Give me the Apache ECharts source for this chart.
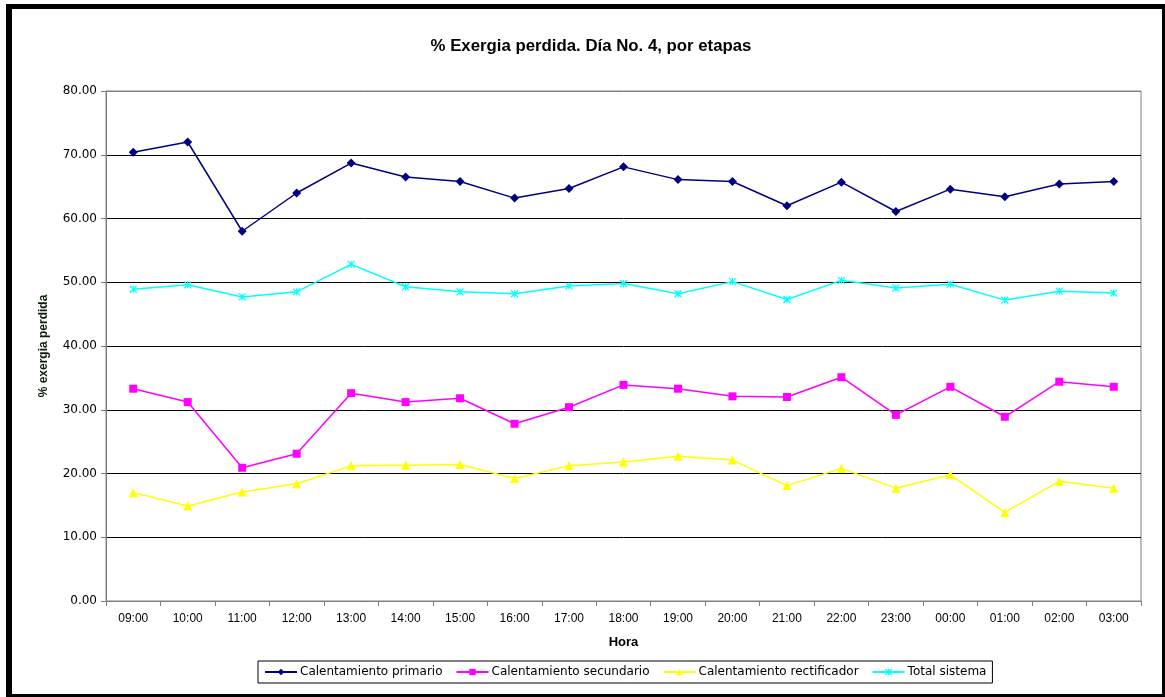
<!DOCTYPE html>
<html>
<head>
<meta charset="utf-8">
<script src="https://cdn.jsdelivr.net/npm/echarts@6/dist/echarts.min.js"></script>
<style>
  html, body { margin: 0; padding: 0; background: #fff; }
  #chart { width: 1165px; height: 697px; }
</style>
</head>
<body>
<div id="chart"></div>
<script>
// Hourly categories (day 4)
const horas = ['09:00','10:00','11:00','12:00','13:00','14:00','15:00','16:00','17:00','18:00',
               '19:00','20:00','21:00','22:00','23:00','00:00','01:00','02:00','03:00'];

// % exergy lost per stage
const calentamientoPrimario = [70.4, 72.0, 58.0, 64.0, 68.7, 66.5, 65.8, 63.2, 64.7, 68.1,
                               66.1, 65.8, 62.0, 65.7, 61.1, 64.6, 63.4, 65.4, 65.8];
const calentamientoSecundario = [33.3, 31.2, 20.9, 23.1, 32.6, 31.2, 31.8, 27.8, 30.4, 33.9,
                                 33.3, 32.1, 32.0, 35.1, 29.2, 33.6, 28.9, 34.4, 33.6];
const calentamientoRectificador = [17.0, 14.9, 17.1, 18.4, 21.2, 21.3, 21.4, 19.2, 21.2, 21.8,
                                   22.7, 22.1, 18.1, 20.8, 17.7, 19.8, 13.9, 18.8, 17.7];
const totalSistema = [48.9, 49.6, 47.7, 48.5, 52.8, 49.3, 48.5, 48.2, 49.4, 49.8,
                      48.2, 50.1, 47.3, 50.3, 49.1, 49.7, 47.2, 48.6, 48.3];

// Y axis range
const yMin = 0, yMax = 80, yStep = 10;

// Asterisk-style marker (X with a vertical bar)
const starPath = 'path://M0,0L10,10M10,0L0,10M5,0L5,10';

const chart = echarts.init(document.getElementById('chart'), null, { renderer: 'canvas' });

function lineSeries(name, data, color, symbol, size, extra) {
  return Object.assign({
    name: name,
    type: 'line',
    data: data,
    symbol: symbol,
    symbolSize: size,
    showAllSymbol: true,
    animation: false,
    lineStyle: { color: color, width: 1.5 },
    itemStyle: { color: color },
    emphasis: { disabled: true }
  }, extra || {});
}

const gridLineColors = [];
for (let v = yMin; v <= yMax; v += yStep) {
  gridLineColors.push(v === yMax ? '#808080' : '#000000');
}

chart.setOption({
  backgroundColor: '#ffffff',
  animation: false,
  title: {
    text: '% Exergia perdida. Día No. 4, por etapas',
    left: 586,
    textAlign: 'center',
    top: 33,
    textStyle: { fontFamily: 'Liberation Sans', fontSize: 16.8, fontWeight: 'bold', color: '#000' }
  },
  legend: {
    left: 258,
    top: 661,
    orient: 'horizontal',
    borderColor: '#000',
    borderWidth: 1,
    padding: [5, 6, 5, 6],
    itemGap: 13,
    itemWidth: 32,
    itemHeight: 8,
    textStyle: { fontFamily: 'DejaVu Sans', fontSize: 12, color: '#000', padding: [0, 0, 0, -2] },
    data: [
      { name: 'Calentamiento primario' },
      { name: 'Calentamiento secundario' },
      { name: 'Calentamiento rectificador' },
      { name: 'Total sistema', itemStyle: { color: 'none', borderColor: '#00ffff', borderWidth: 1.2 } }
    ]
  },
  grid: {
    left: 106, right: 24, top: 91, bottom: 96,
    show: true,
    borderColor: '#808080',
    borderWidth: 1,
    backgroundColor: '#ffffff'
  },
  xAxis: {
    type: 'category',
    data: horas,
    boundaryGap: true,
    name: 'Hora',
    nameLocation: 'middle',
    nameGap: 35,
    nameTextStyle: { fontFamily: 'Liberation Sans', fontSize: 13, fontWeight: 'bold', color: '#000' },
    axisLine: { lineStyle: { color: '#808080', width: 1 } },
    axisTick: { show: true, interval: 0, length: 5, inside: false, lineStyle: { color: '#808080' } },
    axisLabel: { interval: 0, margin: 12, fontFamily: 'Liberation Sans', fontSize: 12, color: '#000' },
    splitLine: { show: false }
  },
  yAxis: {
    type: 'value',
    min: yMin,
    max: yMax,
    interval: yStep,
    name: '% exergia perdida',
    nameLocation: 'middle',
    nameGap: 56,
    nameRotate: 90,
    nameTextStyle: { fontFamily: 'Liberation Sans', fontSize: 12, fontWeight: 'bold', color: '#0b1f0b' },
    axisLine: { show: true, lineStyle: { color: '#808080', width: 1 } },
    axisTick: { show: true, length: 5, inside: false, lineStyle: { color: '#808080' } },
    axisLabel: {
      margin: 9,
      fontFamily: 'DejaVu Sans',
      fontSize: 12,
      color: '#000',
      formatter: function (v) { return v.toFixed(2); }
    },
    splitLine: { show: true, lineStyle: { color: gridLineColors, width: 1 } }
  },
  series: [
    lineSeries('Calentamiento primario', calentamientoPrimario, '#000080', 'diamond', 9),
    lineSeries('Calentamiento secundario', calentamientoSecundario, '#ff00ff', 'rect', 8),
    lineSeries('Calentamiento rectificador', calentamientoRectificador, '#ffff00', 'triangle', 9),
    lineSeries('Total sistema', totalSistema, '#00ffff', starPath, 7, {
      itemStyle: { color: 'none', borderColor: '#00ffff', borderWidth: 1.2 }
    })
  ],
  graphic: [
    // outer black frame
    { type: 'rect', shape: { x: 6, y: 4, width: 1159, height: 5 }, style: { fill: '#000' }, silent: true },
    { type: 'rect', shape: { x: 6, y: 4, width: 6, height: 693 }, style: { fill: '#000' }, silent: true },
    { type: 'rect', shape: { x: 1162, y: 4, width: 3, height: 693 }, style: { fill: '#000' }, silent: true },
    { type: 'rect', shape: { x: 6, y: 694, width: 1159, height: 3 }, style: { fill: '#000' }, silent: true }
  ]
});
</script>
</body>
</html>
